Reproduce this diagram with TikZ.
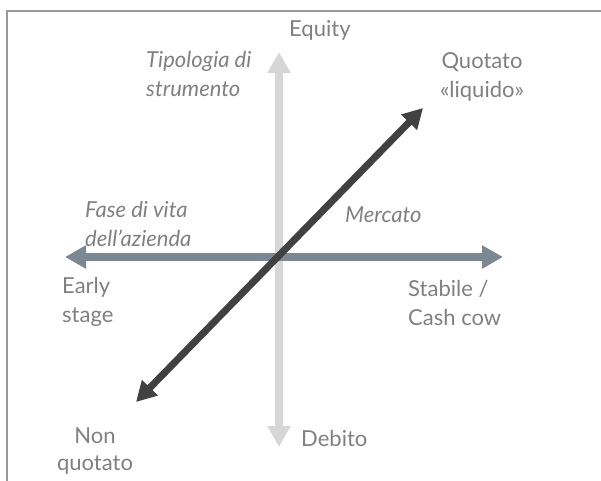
\documentclass[tikz,border=0pt]{standalone}
\usepackage{fontspec}
\setmainfont{Lato}
\usetikzlibrary{arrows.meta}
\definecolor{txtgray}{HTML}{808080}
\definecolor{vaxis}{HTML}{D6D6D6}
\definecolor{haxis}{HTML}{7B8793}
\definecolor{daxis}{HTML}{414141}
\definecolor{frame}{HTML}{9A9A9A}
\tikzset{
  lbl/.style={text=txtgray, inner sep=0pt, font=\fontsize{22}{26}\selectfont},
  ilbl/.style={lbl, font=\fontsize{22}{26}\selectfont\itshape},
  axisarrow/.style={line width=8pt, -{Triangle[length=21pt,width=22pt]}},
}
\begin{document}
\begin{tikzpicture}[x=1pt,y=-1pt]
\useasboundingbox (0,0) rectangle (601,480);
% frame (top and left edges visible)
\draw[frame, line width=2pt] (7,485) -- (7,11) -- (606,11);
% coordinates
\coordinate (c) at (279,257);
\coordinate (vtop) at (279,52);
\coordinate (vbot) at (279,447);
\coordinate (hl) at (65,257);
\coordinate (hr) at (503,257);
\coordinate (dne) at (423,108);
\coordinate (dsw) at (136,402);
% axes
\draw[vaxis, axisarrow] (c) -- (vtop);
\draw[vaxis, axisarrow] (c) -- (vbot);
\draw[haxis, axisarrow] (c) -- (hl);
\draw[haxis, axisarrow] (c) -- (hr);
\draw[daxis, line width=7pt, {Triangle[length=20pt,width=21pt]}-{Triangle[length=20pt,width=21pt]}] (dsw) -- (dne);
% labels
\node[lbl, anchor=base west] (equity) at (289,36) {Equity};
\node[lbl, anchor=base west] (debito) at (301,446) {Debito};
\node[ilbl, anchor=base west] (tip1) at (146,67) {Tipologia di};
\node[ilbl, anchor=base west] (tip2) at (146,96) {strumento};
\node[lbl, anchor=base] (quo1) at (482,68) {Quotato};
\node[lbl, anchor=base] (quo2) at (482,97) {«liquido»};
\node[ilbl, anchor=base west] (fase1) at (85,217) {Fase di vita};
\node[ilbl, anchor=base west] (fase2) at (85,246) {dell’azienda};
\node[ilbl, anchor=base west] (merc) at (345,222) {Mercato};
\node[lbl, anchor=base west] (early1) at (62,293) {Early};
\node[lbl, anchor=base west] (early2) at (62,322) {stage};
\node[lbl, anchor=base west] (stab1) at (408,296) {Stabile /};
\node[lbl, anchor=base west] (stab2) at (408,325) {Cash cow};
\node[lbl, anchor=base] (non1) at (95,443) {Non};
\node[lbl, anchor=base] (non2) at (95,470) {quotato};
\end{tikzpicture}
\end{document}
